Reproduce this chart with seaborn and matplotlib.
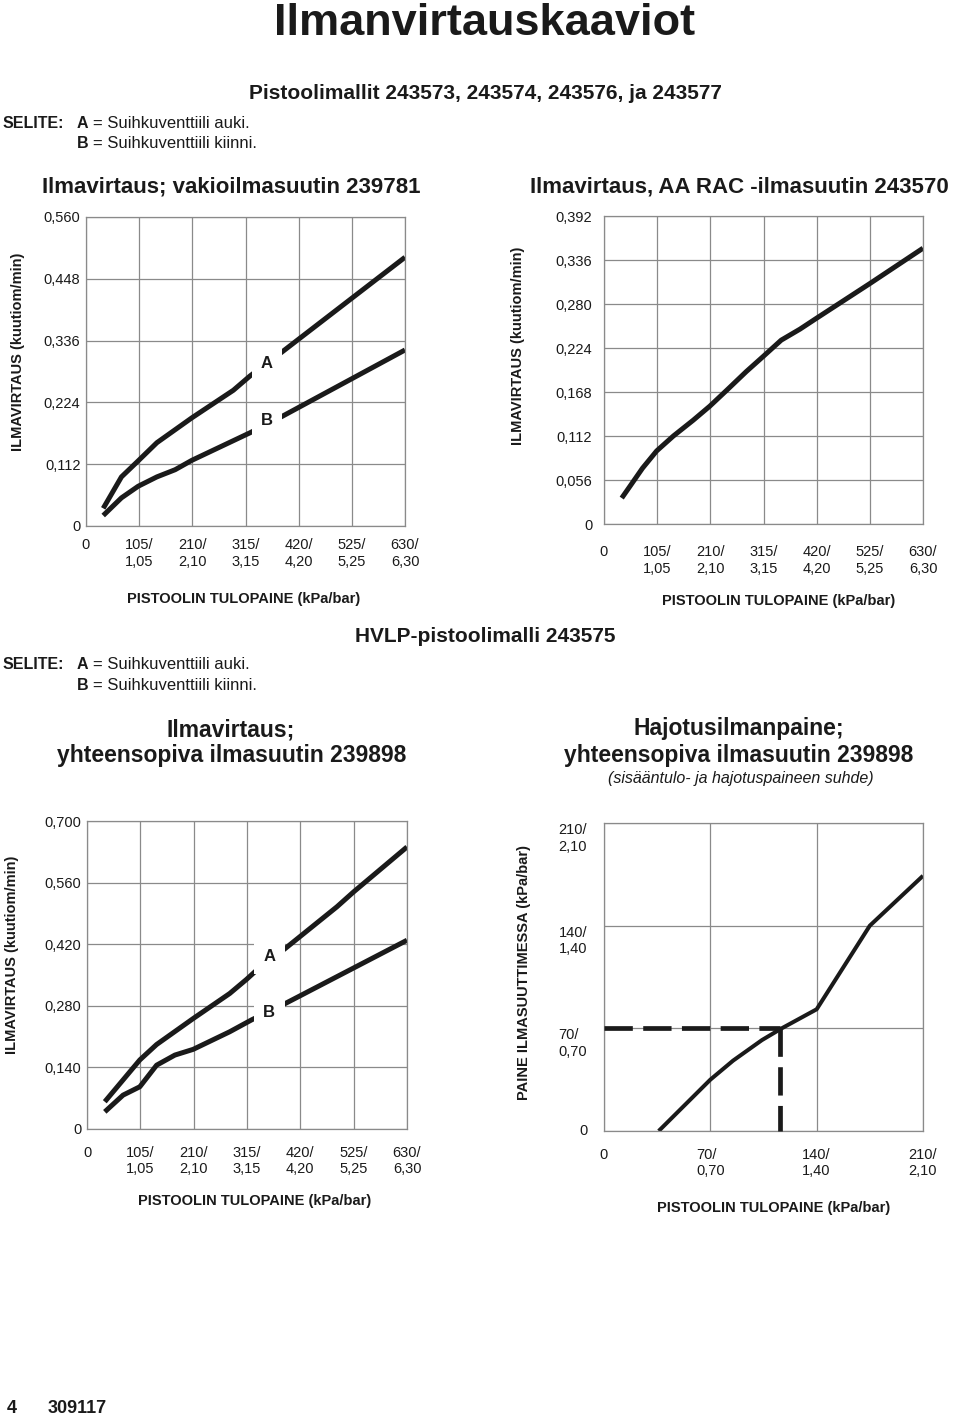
import numpy as np
import pandas as pd
import matplotlib
matplotlib.use('Agg')
import matplotlib.pyplot as plt
import seaborn as sns

# ---------------------------------------------------------------------------
# Data
# ---------------------------------------------------------------------------
x_ticks_630 = [0, 105, 210, 315, 420, 525, 630]
x_labels_630 = ['0', '105/\n1,05', '210/\n2,10', '315/\n3,15', '420/\n4,20', '525/\n5,25', '630/\n6,30']

# 1) vakioilmasuutin 239781
p1_y_ticks = [0, 0.112, 0.224, 0.336, 0.448, 0.560]
p1_y_labels = ['0', '0,112', '0,224', '0,336', '0,448', '0,560']
p1_a_x = [34, 70, 103, 140, 209, 291, 324, 388, 630]
p1_a_y = [0.032, 0.089, 0.118, 0.151, 0.196, 0.246, 0.272, 0.316, 0.487]
p1_b_x = [34, 70, 103, 140, 176, 209, 324, 388, 630]
p1_b_y = [0.019, 0.051, 0.072, 0.089, 0.102, 0.119, 0.169, 0.199, 0.319]

# 2) AA RAC -ilmasuutin 243570
p2_y_ticks = [0, 0.056, 0.112, 0.168, 0.224, 0.280, 0.336, 0.392]
p2_y_labels = ['0', '0,056', '0,112', '0,168', '0,224', '0,280', '0,336', '0,392']
p2_x = [35, 48, 76, 104, 137, 176, 209, 242, 281, 314, 350, 387, 420, 525, 630]
p2_y = [0.033, 0.045, 0.071, 0.093, 0.112, 0.132, 0.150, 0.170, 0.194, 0.213, 0.234,
        0.248, 0.262, 0.306, 0.351]

# 3) HVLP, ilmasuutin 239898
p3_y_ticks = [0, 0.140, 0.280, 0.420, 0.560, 0.700]
p3_y_labels = ['0', '0,140', '0,280', '0,420', '0,560', '0,700']
p3_a_x = [35, 104, 137, 209, 281, 314, 334, 390, 492, 525, 630]
p3_a_y = [0.062, 0.157, 0.192, 0.251, 0.308, 0.340, 0.361, 0.410, 0.505, 0.539, 0.641]
p3_b_x = [35, 71, 104, 137, 173, 209, 281, 324, 390, 630]
p3_b_y = [0.039, 0.077, 0.096, 0.145, 0.168, 0.181, 0.221, 0.248, 0.285, 0.429]

# 4) Hajotusilmanpaine
p4_ticks = [0, 70, 140, 210]
p4_labels = ['0', '70/\n0,70', '140/\n1,40', '210/\n2,10']
p4_x = [36, 70, 85, 104, 117, 140, 175, 210]
p4_y = [0, 35, 48, 62, 70, 83, 140, 174]
p4_ref_x = 116
p4_ref_y = 70

# ---------------------------------------------------------------------------
sns.set_style('white')
plt.rcParams['font.family'] = ['Liberation Sans', 'DejaVu Sans']

W, H = 960, 1415
fig = plt.figure(figsize=(W / 100, H / 100), dpi=100)

INK = '#1a1a1a'
GRID = '#8a8a8a'


def fx(x):
    return x / W


def fy(y):
    return 1 - y / H


def add_ax(left, top, right, bottom):
    return fig.add_axes([fx(left), fy(bottom), (right - left) / W, (bottom - top) / H])


def style_ax(ax, xticks, xlabels, yticks, ylabels, xpad, ypad):
    ax.set_xlim(xticks[0], xticks[-1])
    ax.set_ylim(yticks[0], yticks[-1])
    ax.set_xticks(xticks)
    ax.set_xticklabels(xlabels, fontsize=10.5, color=INK, linespacing=1.25)
    ax.set_yticks(yticks)
    ax.set_yticklabels(ylabels, fontsize=10.5, color=INK, linespacing=1.25)
    ax.tick_params(length=0)
    ax.tick_params(axis='x', pad=xpad)
    ax.tick_params(axis='y', pad=ypad)
    ax.grid(True, color=GRID, lw=0.9)
    ax.set_axisbelow(True)
    for s in ax.spines.values():
        s.set_color(GRID)
        s.set_linewidth(0.9)


def set_labels(ax, xlabel, ylabel, xc, yc):
    ax.set_xlabel(xlabel, fontsize=10.5, fontweight='bold', color=INK)
    ax.set_ylabel(ylabel, fontsize=10.5, fontweight='bold', color=INK)
    ax.xaxis.set_label_coords(*xc)
    ax.yaxis.set_label_coords(*yc)
    ax.xaxis.label.set_va('center')
    ax.yaxis.label.set_va('center')


def ab_lines(ax, ax_x, ax_y, bx, by, lw):
    df = pd.concat([
        pd.DataFrame({'paine': ax_x, 'virtaus': ax_y, 'kayra': 'A'}),
        pd.DataFrame({'paine': bx, 'virtaus': by, 'kayra': 'B'}),
    ])
    sns.lineplot(data=df, x='paine', y='virtaus', hue='kayra',
                 palette={'A': INK, 'B': INK}, legend=False, lw=lw,
                 solid_capstyle='butt', ax=ax)


def curve_label(ax, x, y, s):
    ax.text(x, y, s, fontsize=12, fontweight='bold', color=INK, ha='center', va='center',
            bbox=dict(boxstyle='square,pad=0.55', fc='white', ec='none'), zorder=5)


xlab = 'PISTOOLIN TULOPAINE (kPa/bar)'
ylab = 'ILMAVIRTAUS (kuutiom/min)'

# Panel 1
ax1 = add_ax(86, 217, 405, 526)
ab_lines(ax1, p1_a_x, p1_a_y, p1_b_x, p1_b_y, 3.6)
style_ax(ax1, x_ticks_630, x_labels_630, p1_y_ticks, p1_y_labels, 9, 4)
set_labels(ax1, xlab, ylab, (0.494, -0.236), (-0.213, 0.563))
curve_label(ax1, 357, 0.295, 'A')
curve_label(ax1, 357, 0.191, 'B')

# Panel 2
ax2 = add_ax(604, 216, 923, 524)
df2 = pd.DataFrame({'paine': p2_x, 'virtaus': p2_y})
sns.lineplot(data=df2, x='paine', y='virtaus', color=INK, lw=3.6,
             solid_capstyle='butt', ax=ax2)
style_ax(ax2, x_ticks_630, x_labels_630, p2_y_ticks, p2_y_labels, 15, 8.5)
set_labels(ax2, xlab, ylab, (0.546, -0.250), (-0.269, 0.577))

# Panel 3
ax3 = add_ax(87, 821, 407, 1129)
ab_lines(ax3, p3_a_x, p3_a_y, p3_b_x, p3_b_y, 3.6)
style_ax(ax3, x_ticks_630, x_labels_630, p3_y_ticks, p3_y_labels, 12, 4)
set_labels(ax3, xlab, ylab, (0.525, -0.234), (-0.233, 0.564))
curve_label(ax3, 359, 0.391, 'A')
curve_label(ax3, 359, 0.264, 'B')

# Panel 4
ax4 = add_ax(604, 823, 923, 1131)
df4 = pd.DataFrame({'tulo': p4_x, 'suutin': p4_y})
sns.lineplot(data=df4, x='tulo', y='suutin', color=INK, lw=2.9,
             solid_capstyle='butt', ax=ax4)
ax4.plot([0, p4_ref_x], [p4_ref_y, p4_ref_y], color=INK, lw=3.4,
         dashes=(6, 2.2), dash_capstyle='butt', clip_on=False, zorder=4)
ax4.plot([p4_ref_x, p4_ref_x], [p4_ref_y, 0], color=INK, lw=3.4,
         dashes=(6, 2.2), dash_capstyle='butt', clip_on=False, zorder=4)
style_ax(ax4, p4_ticks, p4_labels, p4_ticks, p4_labels, 12, 12)
for lbl in ax4.get_xticklabels():
    lbl.set_multialignment('left')
for lbl in ax4.get_yticklabels():
    lbl.set_multialignment('left')
    lbl.set_va('center' if lbl.get_text() == '0' else 'top')
set_labels(ax4, xlab, 'PAINE ILMASUUTTIMESSA (kPa/bar)', (0.531, -0.251), (-0.251, 0.516))

# ---------------------------------------------------------------------------
# Page texts
# ---------------------------------------------------------------------------
def t(x, y, s, size, weight='bold', ha='center', style='normal'):
    fig.text(fx(x), fy(y), s, fontsize=size, fontweight=weight, ha=ha, va='baseline',
             color=INK, style=style)


t(484.5, 35, 'Ilmanvirtauskaaviot', 32.5)
t(485, 99, 'Pistoolimallit 243573, 243574, 243576, ja 243577', 15)

for base in (128, 669):
    t(3, base, 'SELITE:', 11.5, ha='left')
    t(77, base, 'A', 11.5, ha='left')
    t(93, base, '= Suihkuventtiili auki.', 12, weight='normal', ha='left')
    t(77, base + 20.5, 'B', 11.5, ha='left')
    t(93, base + 20.5, '= Suihkuventtiili kiinni.', 12, weight='normal', ha='left')

t(231, 193, 'Ilmavirtaus; vakioilmasuutin 239781', 16)
t(739.5, 193, 'Ilmavirtaus, AA RAC -ilmasuutin 243570', 16)
t(485.5, 642, 'HVLP-pistoolimalli 243575', 15)
t(231, 736, 'Ilmavirtaus;', 16.5)
t(231.5, 762, 'yhteensopiva ilmasuutin 239898', 16.5)
t(739, 735, 'Hajotusilmanpaine;', 16.5)
t(739, 762, 'yhteensopiva ilmasuutin 239898', 16.5)
t(741, 783, '(sisääntulo- ja hajotuspaineen suhde)', 11.5, weight='normal', style='italic')
t(7, 1413, '4', 13, ha='left')
t(48, 1413, '309117', 13, ha='left')

fig.savefig('out.png', dpi=100)
